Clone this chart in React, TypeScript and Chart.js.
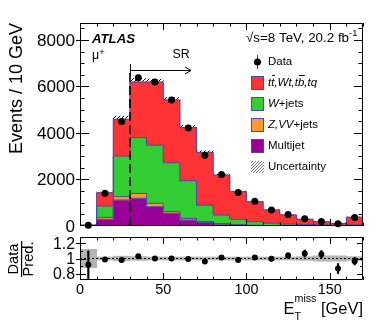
import React, { useEffect, useRef } from "react";
import { Chart, registerables } from "chart.js";
Chart.register(...registerables);

// ---- data (10 GeV bins, last bin includes overflow) ----
const binLow = [0, 10, 20, 30, 40, 50, 60, 70, 80, 90, 100, 110, 120, 130, 140, 150, 160];
const binWidth = 10;
const topQuarks = [10, 570, 1580, 2390, 2710, 2700, 2290, 2270, 1715, 1185, 860, 565, 390, 230, 140, 85, 330];
const wJets = [15, 490, 1750, 2400, 2505, 2105, 1620, 710, 370, 235, 155, 107, 74, 52, 39, 26, 40];
const zVVJets = [2, 80, 140, 210, 145, 70, 70, 40, 25, 15, 10, 8, 5, 4, 3, 2, 4];
const multijet = [10, 290, 1120, 1190, 830, 545, 260, 150, 80, 40, 20, 10, 6, 4, 3, 2, 3];
const dataCounts = [34, 1411, 4498, 6376, 6190, 5420, 4219, 3043, 2218, 1446, 1059, 687, 494, 309, 195, 100, 364];
const ratioErr = [0.18, 0.012, 0.01, 0.01, 0.01, 0.01, 0.01, 0.012, 0.015, 0.018, 0.022, 0.028, 0.035, 0.045, 0.05, 0.065, 0.05];
const predUnc = [0.12, 0.02, 0.03, 0.025, 0.02, 0.02, 0.02, 0.02, 0.02, 0.02, 0.02, 0.02, 0.02, 0.025, 0.035, 0.035, 0.025];
const xTicks = [0, 50, 100, 150];
const yTicks = [0, 2000, 4000, 6000, 8000];
const ratioTicks = [0.8, 1, 1.2];
const srStart = 30;

const FAM = '"Liberation Sans", Arial, Helvetica, sans-serif';
const C_TOP = "#ff3333";
const C_W = "#33cc33";
const C_Z = "#ff9933";
const C_MJ = "#990099";
const C_LINE = "#4a48b0";

// font size such that `text` is `w` px wide
function fit(ctx: CanvasRenderingContext2D, text: string, w: number, style = "") {
  ctx.font = `${style} 20px ${FAM}`;
  const m = ctx.measureText(text).width;
  return (20 * w) / m;
}
function F(size: number, style = "") {
  return `${style} ${size.toFixed(2)}px ${FAM}`;
}

function makeHatch(color: string, s: number) {
  const c = document.createElement("canvas");
  c.width = s;
  c.height = s;
  const g = c.getContext("2d")!;
  g.strokeStyle = color;
  g.lineWidth = 1;
  g.beginPath();
  g.moveTo(0, s);
  g.lineTo(s, 0);
  g.moveTo(-1, 1);
  g.lineTo(1, -1);
  g.moveTo(s - 1, s + 1);
  g.lineTo(s + 1, s - 1);
  g.stroke();
  return g.createPattern(c, "repeat")!;
}

function drawFrameTicks(chart: any, cfg: any) {
  const { ctx, chartArea: a, scales } = chart;
  const xs = scales.x, ys = scales.y;
  ctx.save();
  ctx.strokeStyle = "#000";
  ctx.lineWidth = 1;
  ctx.beginPath();
  ctx.rect(a.left + 0.5, a.top + 0.5, a.right - a.left - 1, a.bottom - a.top - 1);
  ctx.stroke();
  ctx.beginPath();
  for (let v = cfg.xMin; v <= cfg.xMax + 1e-6; v += cfg.xMinor) {
    const major = Math.abs(v / cfg.xMajor - Math.round(v / cfg.xMajor)) < 1e-6;
    const L = major ? cfg.xLen : cfg.xLen / 2;
    const px = Math.round(xs.getPixelForValue(v)) + 0.5;
    ctx.moveTo(px, a.bottom);
    ctx.lineTo(px, a.bottom - L);
    ctx.moveTo(px, a.top);
    ctx.lineTo(px, a.top + L);
  }
  for (let v = cfg.yMinorStart; v <= cfg.yMax + 1e-6; v += cfg.yMinor) {
    const major = cfg.yMajorList.some((m: number) => Math.abs(m - v) < 1e-6);
    const L = major ? cfg.yLen : cfg.yLen / 2;
    const py = Math.round(ys.getPixelForValue(v)) + 0.5;
    if (py < a.top || py > a.bottom) continue;
    ctx.moveTo(a.left - (major ? 4 : 0), py);
    ctx.lineTo(a.left + L, py);
    ctx.moveTo(a.right, py);
    ctx.lineTo(a.right - L, py);
  }
  ctx.stroke();
  ctx.fillStyle = "#000";
  ctx.font = F(fit(ctx, cfg.yFitText, cfg.yFitW));
  ctx.textAlign = "right";
  ctx.textBaseline = "middle";
  for (const v of cfg.yMajorList) {
    ctx.fillText(cfg.yFmt(v), a.left - 5, ys.getPixelForValue(v) + 1);
  }
  if (cfg.xLabels) {
    ctx.font = F(fit(ctx, "100", 24));
    ctx.textAlign = "center";
    ctx.textBaseline = "middle";
    for (const v of xTicks) ctx.fillText(String(v), xs.getPixelForValue(v), 290);
  }
  ctx.restore();
}

function seg(ctx: CanvasRenderingContext2D, parts: [string, string, number][], x: number, y: number) {
  let cx = x;
  for (const [t, f, dy] of parts) {
    ctx.font = f;
    ctx.fillText(t, cx, y + dy);
    cx += ctx.measureText(t).width;
  }
  return cx;
}

const mainPlugin = {
  id: "mainDecor",
  afterDraw(chart: any) {
    const { ctx, chartArea: a, scales } = chart;
    drawFrameTicks(chart, {
      xMin: 0, xMax: 170, xMinor: 10, xMajor: 50, xLen: 7,
      yMinorStart: 0, yMax: 8730, yMinor: 500, yMajorList: yTicks, yLen: 9,
      yFitText: "8000", yFitW: 38, yFmt: (v: number) => String(v), xLabels: false,
    });
    ctx.save();
    ctx.fillStyle = "#000";
    // y title
    ctx.save();
    ctx.translate(17, a.top);
    ctx.rotate(-Math.PI / 2);
    ctx.font = F(fit(ctx, "Events / 10 GeV", 131));
    ctx.textAlign = "right";
    ctx.textBaseline = "middle";
    ctx.fillText("Events / 10 GeV", 0, 0);
    ctx.restore();
    // SR line + arrow
    const xs = scales.x;
    const px = Math.round(xs.getPixelForValue(srStart));
    ctx.strokeStyle = "#000";
    ctx.lineWidth = 1.6;
    ctx.setLineDash([9, 4]);
    ctx.beginPath();
    ctx.moveTo(px, 73);
    ctx.lineTo(px, a.bottom);
    ctx.stroke();
    ctx.setLineDash([]);
    ctx.lineWidth = 1;
    ctx.beginPath();
    ctx.moveTo(px + 0.5, 64);
    ctx.lineTo(px + 0.5, 76);
    ctx.moveTo(px, 70.5);
    ctx.lineTo(191, 70.5);
    ctx.moveTo(185, 67);
    ctx.lineTo(191, 70.5);
    ctx.lineTo(185, 74);
    ctx.stroke();
    ctx.textBaseline = "middle";
    ctx.textAlign = "center";
    const s13 = fit(ctx, "Uncertainty", 58) * 1.08;
    ctx.font = F(s13);
    ctx.fillText("SR", 181, 55);
    ctx.textAlign = "left";
    ctx.font = F(fit(ctx, "ATLAS", 43, "italic bold"), "italic bold");
    ctx.fillText("ATLAS", 92, 39);
    seg(ctx, [["\u03bc", F(s13), 0], ["+", F(s13 * 0.75), -4]], 92, 56);
    const sEnergy = fit(ctx, "\u221as=8 TeV, 20.2 fb", 103);
    seg(ctx, [["\u221as=8 TeV, 20.2 fb", F(sEnergy), 0], ["-1", F(sEnergy * 0.7), -5]], 246, 38);
    // legend
    const lx = 251, tx = 268;
    const rows = [62, 83, 104, 125, 146, 167];
    ctx.beginPath();
    ctx.strokeStyle = "#3a3a80";
    ctx.moveTo(257.5, 55);
    ctx.lineTo(257.5, 69);
    ctx.stroke();
    ctx.beginPath();
    ctx.arc(257.5, rows[0], 3.5, 0, Math.PI * 2);
    ctx.fill();
    const boxes: [string, number][] = [[C_TOP, rows[1]], [C_W, rows[2]], [C_Z, rows[3]], [C_MJ, rows[4]]];
    for (const [c, y] of boxes) {
      ctx.fillStyle = c;
      ctx.fillRect(lx, y - 7, 13, 14);
      ctx.strokeStyle = C_LINE;
      ctx.strokeRect(lx + 0.5, y - 6.5, 12, 13);
    }
    ctx.fillStyle = makeHatch("#777", 3);
    ctx.fillRect(lx, rows[5] - 6, 13, 12);
    ctx.fillStyle = "#000";
    const sL = fit(ctx, "Uncertainty", 58);
    const f = F(sL), fi = F(sL, "italic");
    ctx.font = f;
    ctx.fillText("Data", tx, rows[0]);
    ctx.font = fi;
    let cx = tx;
    const parts = ["t", "t", ",Wt,t", "b", ",tq"];
    const bars = [false, true, false, true, false];
    parts.forEach((p, i) => {
      ctx.fillText(p, cx, rows[1]);
      const w = ctx.measureText(p).width;
      if (bars[i]) {
        ctx.fillRect(cx + 1, rows[1] - 8, w - 0.5, 1);
      }
      cx += w;
    });
    seg(ctx, [["W", fi, 0], ["+jets", f, 0]], tx, rows[2]);
    seg(ctx, [["Z,VV", fi, 0], ["+jets", f, 0]], tx, rows[3]);
    ctx.font = f;
    ctx.fillText("Multijet", tx, rows[4]);
    ctx.fillText("Uncertainty", tx, rows[5]);
    ctx.restore();
  },
};

const ratioPlugin = {
  id: "ratioDecor",
  afterDraw(chart: any) {
    const { ctx, chartArea: a } = chart;
    drawFrameTicks(chart, {
      xMin: 0, xMax: 170, xMinor: 10, xMajor: 50, xLen: 7,
      yMinorStart: 0.8, yMax: 1.28, yMinor: 0.1, yMajorList: ratioTicks, yLen: 6,
      yFitText: "1.2", yFitW: 22, yFmt: (v: number) => (v === 1 ? "1" : v.toFixed(1)), xLabels: true,
    });
    ctx.save();
    ctx.fillStyle = "#000";
    ctx.strokeStyle = "#000";
    const cy = 259;
    ctx.save();
    ctx.translate(0, cy);
    ctx.rotate(-Math.PI / 2);
    const sR = fit(ctx, "Pred.", 35);
    ctx.font = F(sR);
    ctx.textAlign = "center";
    ctx.textBaseline = "middle";
    ctx.fillText("Data", 0, 13.5);
    ctx.fillText("Pred.", 0, 29);
    ctx.fillRect(-18, 21, 36, 1.2);
    ctx.restore();
    ctx.textBaseline = "alphabetic";
    ctx.textAlign = "left";
    const right = a.right;
    const sT = fit(ctx, "[GeV]", 42);
    ctx.font = F(sT);
    const wGeV = ctx.measureText(" [GeV]").width;
    ctx.font = F(sT * 0.65);
    const wMiss = ctx.measureText("miss").width;
    ctx.font = F(sT);
    const wE = ctx.measureText("E").width;
    const x0 = right - wGeV - wMiss - wE;
    ctx.fillText("E", x0, 314);
    ctx.font = F(sT * 0.65);
    ctx.fillText("miss", x0 + wE, 302);
    ctx.fillText("T", x0 + wE, 320);
    ctx.font = F(sT);
    ctx.fillText(" [GeV]", x0 + wE + wMiss, 314);
    ctx.restore();
  },
};

const centers = binLow.map((b) => b + binWidth / 2);

export default function App() {
  const mainRef = useRef<HTMLCanvasElement>(null);
  const ratioRef = useRef<HTMLCanvasElement>(null);

  useEffect(() => {
    const c1 = multijet.map((v) => v);
    const c2 = c1.map((v, i) => v + zVVJets[i]);
    const c3 = c2.map((v, i) => v + wJets[i]);
    const c4 = c3.map((v, i) => v + topQuarks[i]);
    const barCommon = { type: "bar", grouped: false, barPercentage: 1, categoryPercentage: 1, borderWidth: 0 };
    const fl = (lo: number[], hi: number[]) => centers.map((x, i) => ({ x, y: [lo[i], hi[i]] }));
    const zeros = centers.map(() => 0);
    const outline = (cum: number[]) => ({
      type: "line",
      data: [...binLow.map((x, i) => ({ x, y: cum[i] })), { x: 170, y: cum[cum.length - 1] }],
      stepped: "before",
      borderColor: C_LINE,
      borderWidth: 1,
      pointRadius: 0,
      order: 2,
    });
    const hatch = makeHatch("#000", 4);
    const xScale = { type: "linear", min: 0, max: 170, display: false, offset: false };
    const main = new Chart(mainRef.current!, {
      type: "bar",
      data: {
        datasets: [
          { ...barCommon, data: fl(c4.map((v, i) => v * (1 - predUnc[i])), c4.map((v, i) => v * (1 + predUnc[i]))), backgroundColor: hatch, order: 9 } as any,
          { ...barCommon, data: fl(c3, c4), backgroundColor: C_TOP, order: 3 } as any,
          { ...barCommon, data: fl(c2, c3), backgroundColor: C_W, order: 3 } as any,
          { ...barCommon, data: fl(c1, c2), backgroundColor: C_Z, order: 3 } as any,
          { ...barCommon, data: fl(zeros, c1), backgroundColor: C_MJ, order: 3 } as any,
          outline(c1) as any,
          outline(c2) as any,
          outline(c3) as any,
          outline(c4) as any,
          {
            type: "line",
            data: centers.map((x, i) => ({ x, y: dataCounts[i] })),
            showLine: false,
            pointRadius: 3.5,
            pointBackgroundColor: "#000",
            pointBorderWidth: 0,
            clip: false,
            order: 0,
          } as any,
        ],
      },
      options: {
        animation: false,
        responsive: false,
        layout: { padding: { left: 80, top: 23, right: 19, bottom: 97 } },
        plugins: { legend: { display: false }, tooltip: { enabled: false } },
        scales: {
          x: xScale,
          y: { type: "linear", min: 0, max: 8730, display: false },
        },
      },
      plugins: [mainPlugin],
    } as any);

    const ratio = dataCounts.map((d, i) => d / c4[i]);
    const ratioChart = new Chart(ratioRef.current!, {
      type: "bar",
      data: {
        datasets: [
          { ...barCommon, data: fl(predUnc.map((u) => 1 - u), predUnc.map((u) => 1 + u)), backgroundColor: "#b4b4b4", order: 9 } as any,
          {
            type: "line",
            data: [{ x: 0, y: 1 }, { x: 170, y: 1 }],
            borderColor: "#000",
            borderWidth: 1,
            borderDash: [2, 2],
            pointRadius: 0,
            order: 5,
          } as any,
          { type: "bar", grouped: false, barThickness: 1.5, data: fl(ratio.map((r, i) => r - ratioErr[i]), ratio.map((r, i) => r + ratioErr[i])), backgroundColor: "#000", order: 1 } as any,
          {
            type: "line",
            data: centers.map((x, i) => ({ x, y: ratio[i] })),
            showLine: false,
            pointRadius: 3,
            pointBackgroundColor: "#000",
            pointBorderWidth: 0,
            order: 0,
          } as any,
        ],
      },
      options: {
        animation: false,
        responsive: false,
        layout: { padding: { left: 80, top: 237, right: 19, bottom: 43 } },
        plugins: { legend: { display: false }, tooltip: { enabled: false } },
        scales: {
          x: xScale,
          y: { type: "linear", min: 0.72, max: 1.28, display: false },
        },
      },
      plugins: [ratioPlugin],
    } as any);

    return () => {
      main.destroy();
      ratioChart.destroy();
    };
  }, []);

  return (
    <div style={{ position: "fixed", left: 0, top: 0, width: 382, height: 323, background: "#fff" }}>
      <canvas ref={mainRef} width={382} height={323} style={{ position: "absolute", left: 0, top: 0 }} />
      <canvas ref={ratioRef} width={382} height={323} style={{ position: "absolute", left: 0, top: 0 }} />
    </div>
  );
}
